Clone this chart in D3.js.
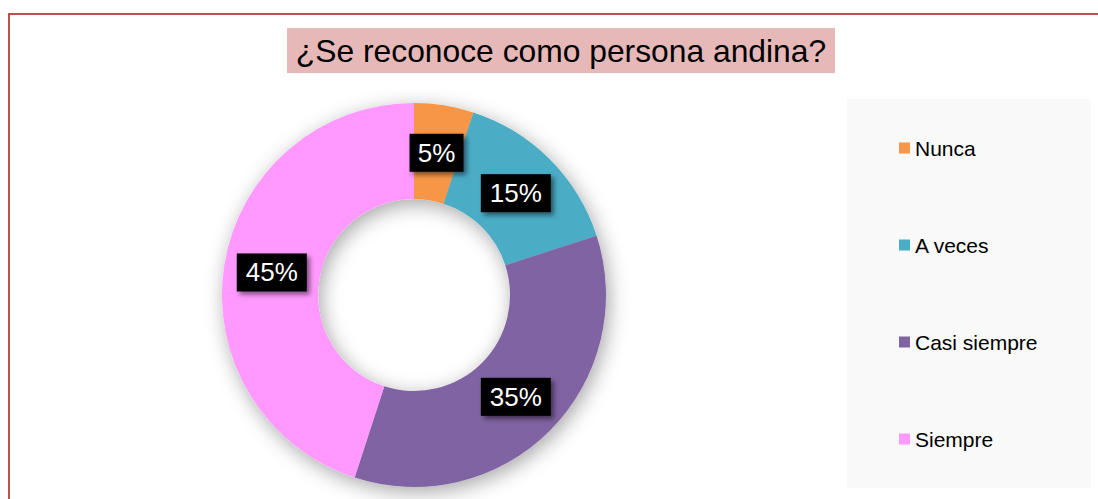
<!DOCTYPE html>
<html>
<head>
<meta charset="utf-8">
<script src="https://cdn.jsdelivr.net/npm/d3@7"></script>
<style>
  body { margin: 0; background: #fff; }
  svg { display: block; font-family: "Liberation Sans", Arial, sans-serif; }
</style>
</head>
<body>
<div id="chart"></div>
<script>
// data
var categories = ["Nunca", "A veces", "Casi siempre", "Siempre"];
var values = [5, 15, 35, 45];
var labels = ["5%", "15%", "35%", "45%"];
var colors = ["#F79646", "#4BACC6", "#8064A2", "#FF99FF"];

var W = 1098, H = 499;
var cx = 414, cy = 295, outerR = 192, innerR = 96;

var svg = d3.select("#chart").append("svg")
  .attr("width", W)
  .attr("height", H);

var defs = svg.append("defs");
var ringShadow = defs.append("filter").attr("id", "ringShadow")
  .attr("x", "-20%").attr("y", "-20%").attr("width", "140%").attr("height", "140%");
ringShadow.append("feDropShadow")
  .attr("dx", 3).attr("dy", 5).attr("stdDeviation", 10)
  .attr("flood-color", "#000").attr("flood-opacity", 0.35);

var labelShadow = defs.append("filter").attr("id", "labelShadow")
  .attr("x", "-30%").attr("y", "-30%").attr("width", "160%").attr("height", "160%");
labelShadow.append("feDropShadow")
  .attr("dx", 3).attr("dy", 3).attr("stdDeviation", 2.5)
  .attr("flood-color", "#000").attr("flood-opacity", 0.5);

// outer border
svg.append("rect")
  .attr("x", 9).attr("y", 14)
  .attr("width", W + 10).attr("height", H + 10)
  .attr("fill", "none")
  .attr("stroke", "#C0504D")
  .attr("stroke-width", 2);

// title
var title = svg.append("g");
title.append("rect")
  .attr("x", 287).attr("y", 28)
  .attr("width", 548).attr("height", 45)
  .attr("fill", "#E6B9B8");
title.append("text")
  .attr("x", 561).attr("y", 62)
  .attr("text-anchor", "middle")
  .attr("font-size", 31.8)
  .attr("fill", "#000")
  .text("¿Se reconoce como persona andina?");

// donut
var pie = d3.pie().sort(null).value(function(d) { return d; });
var arc = d3.arc().innerRadius(innerR).outerRadius(outerR);
var arcs = pie(values);

var g = svg.append("g").attr("transform", "translate(" + cx + "," + cy + ")");

g.append("g").attr("filter", "url(#ringShadow)")
  .selectAll("path")
  .data(arcs)
  .enter()
  .append("path")
  .attr("d", arc)
  .attr("fill", function(d, i) { return colors[i]; });

// data labels
var lab = g.selectAll("g.lab")
  .data(arcs)
  .enter()
  .append("g")
  .attr("class", "lab")
  .attr("transform", function(d) {
    var c = arc.centroid(d);
    return "translate(" + c[0] + "," + c[1] + ")";
  });

lab.append("rect")
  .attr("x", function(d, i) { return labels[i].length > 2 ? -35 : -27; })
  .attr("y", -19)
  .attr("width", function(d, i) { return labels[i].length > 2 ? 70 : 54; })
  .attr("height", 38)
  .attr("fill", "#000")
  .attr("filter", "url(#labelShadow)");

lab.append("text")
  .attr("text-anchor", "middle")
  .attr("y", 9)
  .attr("font-size", 26)
  .attr("fill", "#fff")
  .text(function(d, i) { return labels[i]; });

// legend
svg.append("rect")
  .attr("x", 847).attr("y", 99)
  .attr("width", 244).attr("height", 389)
  .attr("fill", "#F9F9F9");

var legY = d3.scalePoint().domain(categories).range([148, 439]);

var leg = svg.selectAll("g.leg")
  .data(categories)
  .enter()
  .append("g")
  .attr("class", "leg")
  .attr("transform", function(d) { return "translate(899," + legY(d) + ")"; });

leg.append("rect")
  .attr("x", 0).attr("y", -5.5)
  .attr("width", 11).attr("height", 11)
  .attr("fill", function(d, i) { return colors[i]; });

leg.append("text")
  .attr("x", 16).attr("y", 7.5)
  .attr("font-size", 21)
  .attr("fill", "#000")
  .text(function(d) { return d; });
</script>
</body>
</html>
